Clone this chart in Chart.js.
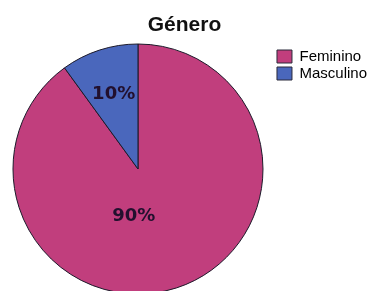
<!DOCTYPE html>
<html>
<head>
<meta charset="utf-8">
<script src="https://cdn.jsdelivr.net/npm/chart.js@4/dist/chart.umd.min.js"></script>
<style>
  html, body { margin: 0; padding: 0; background: #fff; overflow: hidden; }
  #wrap { width: 369px; height: 291px; position: relative; }
</style>
</head>
<body>
<div id="wrap"><canvas id="pieChart"></canvas></div>
<script>
// Data
const categories = ['Feminino', 'Masculino'];
const percentages = [90, 10];
const sliceColors = ['#C13E7D', '#4A67BC'];
const chartTitle = 'Género';

// Percent labels drawn inside each slice (angle clockwise from 12 o'clock, r as fraction of radius)
const labelPlacement = [
    { angle: 185, r: 0.38 },
    { angle: 342, r: 0.63 }
];

// Title centred over the whole canvas (the legend sits to the right of the pie)
const canvasTitle = {
    id: 'canvasTitle',
    afterDraw(chart) {
        const ctx = chart.ctx;
        ctx.save();
        ctx.font = "bold 21px 'Liberation Sans', Arial, sans-serif";
        ctx.fillStyle = '#111';
        ctx.textAlign = 'center';
        ctx.textBaseline = 'middle';
        ctx.fillText(chartTitle, chart.width / 2, 25);
        ctx.restore();
    }
};

const sliceLabels = {
    id: 'sliceLabels',
    afterDatasetsDraw(chart) {
        const ctx = chart.ctx;
        const meta = chart.getDatasetMeta(0);
        ctx.save();
        ctx.font = "bold 18px 'DejaVu Sans', sans-serif";
        ctx.fillStyle = '#22102e';
        ctx.textAlign = 'center';
        ctx.textBaseline = 'middle';
        meta.data.forEach((arc, i) => {
            const p = labelPlacement[i];
            const a = p.angle * Math.PI / 180 - Math.PI / 2;
            const x = arc.x + Math.cos(a) * arc.outerRadius * p.r;
            const y = arc.y + Math.sin(a) * arc.outerRadius * p.r;
            ctx.fillText(percentages[i] + '%', x, y);
        });
        ctx.restore();
    }
};

const ctxPie = document.getElementById('pieChart').getContext('2d');
new Chart(ctxPie, {
    type: 'pie',
    data: {
        labels: categories,
        datasets: [{
            data: percentages,
            backgroundColor: sliceColors,
            borderColor: '#1c1a2a',
            borderWidth: 1,
            radius: 125
        }]
    },
    options: {
        responsive: true,
        maintainAspectRatio: false,
        animation: false,
        layout: { padding: { top: 47, left: 1, right: -8, bottom: -2 } },
        plugins: {
            title: { display: false },
            legend: {
                display: true,
                position: 'right',
                align: 'start',
                fullSize: false,
                labels: {
                    color: '#111',
                    boxWidth: 15,
                    boxHeight: 13,
                    padding: 2,
                    font: { family: "'Liberation Sans', Arial, sans-serif", size: 15 },
                    generateLabels: (chart) => categories.map((c, i) => ({
                        text: c,
                        fillStyle: sliceColors[i],
                        strokeStyle: '#2a2a3a',
                        lineWidth: 1,
                        index: i
                    }))
                }
            },
            tooltip: { enabled: false }
        }
    },
    plugins: [sliceLabels, canvasTitle]
});
</script>
</body>
</html>
